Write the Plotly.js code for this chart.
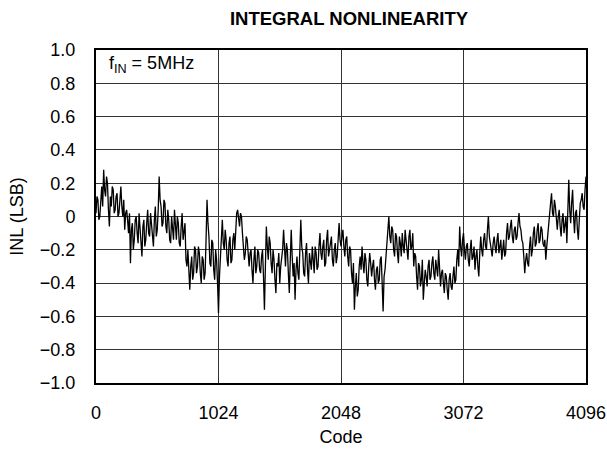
<!DOCTYPE html>
<html>
<head>
<meta charset="utf-8">
<script src="https://cdn.plot.ly/plotly-3.0.1.min.js"></script>
<style>html,body{margin:0;padding:0;background:#fff;}</style>
</head>
<body>
<div id="chart" style="width:607px;height:452px;"></div>
<script>
// Sample spacing along the code axis
const codeStep = 16;
// INL (LSB) at codes 0, 16, 32, ... 4096
const inl = [
  0.02, 0.10, 0.00, 0.18, 0.28, 0.12, 0.20, -0.06, 0.06, 0.16, 0.04, 0.14, 0.02, 0.18, 0.00, -0.08,
  0.04, -0.10, -0.28, -0.04, -0.14, 0.00, -0.16, -0.06, -0.24, -0.02, -0.14, 0.04, -0.12, -0.04, -0.18, 0.06,
  -0.08, 0.24, 0.06, -0.04, 0.08, -0.10, -0.02, -0.16, -0.06, 0.04, -0.14, -0.04, -0.18, 0.02, -0.10, -0.26,
  -0.20, -0.44, -0.24, -0.34, -0.20, -0.30, -0.22, -0.40, -0.26, -0.34, 0.10, -0.12, -0.30, -0.16, -0.38, -0.26,
  -0.58, -0.24, -0.02, -0.20, -0.14, -0.30, -0.12, -0.26, -0.10, -0.04, 0.04, -0.06, 0.00, -0.16, -0.22, -0.14,
  -0.30, -0.20, -0.40, -0.18, -0.30, -0.22, -0.34, -0.20, -0.56, -0.06, -0.26, -0.16, -0.34, -0.26, -0.46, -0.30,
  -0.40, -0.24, -0.08, -0.30, -0.20, -0.46, -0.08, -0.36, -0.50, -0.24, -0.38, -0.02, -0.22, -0.36, -0.16, -0.40,
  -0.26, -0.18, -0.34, -0.22, -0.30, -0.10, -0.26, -0.14, -0.28, -0.08, -0.20, -0.12, -0.30, -0.16, -0.24, -0.04,
  -0.18, -0.08, -0.24, -0.12, -0.30, -0.20, -0.40, -0.56, -0.34, -0.44, -0.24, -0.18, -0.34, -0.26, -0.42, -0.22,
  -0.36, -0.26, -0.44, -0.30, -0.38, -0.24, -0.57, -0.32, -0.14, 0.00, -0.16, -0.08, -0.24, -0.12, -0.28, -0.16,
  -0.10, -0.22, -0.14, -0.26, -0.08, -0.18, -0.30, -0.24, -0.44, -0.30, -0.38, -0.50, -0.32, -0.42, -0.26, -0.36,
  -0.24, -0.38, -0.30, -0.20, -0.42, -0.32, -0.46, -0.36, -0.50, -0.34, -0.44, -0.30, -0.38, -0.20, -0.06, -0.24,
  -0.10, -0.26, -0.16, -0.30, -0.14, -0.24, -0.32, -0.20, -0.36, -0.12, -0.24, -0.10, -0.20, 0.00, -0.16, -0.24,
  -0.12, -0.22, -0.10, -0.18, -0.26, -0.14, -0.22, -0.04, -0.12, -0.02, -0.16, -0.06, -0.12, 0.02, -0.08, -0.16,
  -0.34, -0.22, -0.30, -0.12, -0.20, -0.06, -0.16, -0.04, -0.14, -0.08, -0.18, -0.26, -0.10, 0.04, 0.14, 0.00,
  0.06, -0.08, 0.04, -0.12, 0.02, -0.06, -0.16, 0.22, -0.04, 0.16, -0.10, 0.04, -0.14, 0.08, 0.14, 0.04,
  0.24
];
// INL (LSB) at the in-between codes 8, 24, 40, ... 4088
const inlMid = [
  0.12, -0.02, 0.14, 0.06, 0.16, 0.24, 0.04, 0.12, 0.18, 0.02, 0.12, 0.00, 0.10, 0.06, 0.10, 0.02,
  -0.02, 0.02, -0.08, -0.20, -0.02, -0.10, 0.02, -0.14, -0.06, -0.18, -0.04, -0.10, 0.02, -0.14, -0.02, -0.12,
  0.04, 0.10, -0.06, 0.10, -0.06, 0.04, -0.14, 0.00, -0.14, -0.08, 0.00, -0.16, -0.06, -0.14, -0.04, -0.30,
  -0.32, -0.30, -0.38, -0.18, -0.34, -0.18, -0.34, -0.24, -0.38, -0.14, -0.04, -0.28, -0.14, -0.32, -0.20, -0.40,
  -0.36, -0.12, -0.16, -0.08, -0.26, -0.16, -0.28, -0.14, -0.20, 0.02, -0.04, 0.02, -0.10, -0.26, -0.12, -0.24,
  -0.22, -0.32, -0.26, -0.34, -0.20, -0.32, -0.24, -0.36, -0.30, -0.18, -0.12, -0.28, -0.20, -0.38, -0.28, -0.22,
  -0.30, -0.20, -0.22, -0.16, -0.34, -0.26, -0.24, -0.28, -0.32, -0.34, -0.20, -0.18, -0.34, -0.22, -0.32, -0.22,
  -0.32, -0.24, -0.18, -0.32, -0.18, -0.22, -0.18, -0.30, -0.14, -0.24, -0.14, -0.26, -0.20, -0.28, -0.14, -0.14,
  -0.12, -0.18, -0.14, -0.24, -0.18, -0.34, -0.28, -0.42, -0.48, -0.30, -0.32, -0.28, -0.22, -0.38, -0.30, -0.28,
  -0.30, -0.38, -0.32, -0.40, -0.26, -0.40, -0.36, -0.24, -0.06, -0.12, -0.06, -0.20, -0.10, -0.22, -0.12, -0.24,
  -0.18, -0.08, -0.24, -0.12, -0.20, -0.10, -0.22, -0.36, -0.28, -0.42, -0.26, -0.40, -0.36, -0.30, -0.38, -0.28,
  -0.34, -0.26, -0.36, -0.30, -0.34, -0.40, -0.34, -0.44, -0.38, -0.42, -0.36, -0.40, -0.26, -0.30, -0.18, -0.14,
  -0.20, -0.18, -0.26, -0.20, -0.26, -0.18, -0.24, -0.30, -0.22, -0.20, -0.14, -0.18, -0.08, -0.12, -0.20, -0.16,
  -0.18, -0.14, -0.22, -0.14, -0.18, -0.24, -0.10, -0.14, -0.06, -0.12, -0.08, -0.14, -0.04, -0.06, -0.14, -0.24,
  -0.26, -0.28, -0.18, -0.24, -0.10, -0.18, -0.08, -0.16, -0.06, -0.16, -0.14, -0.18, -0.04, 0.08, 0.02, 0.10,
  -0.02, 0.00, -0.06, -0.02, -0.10, 0.00, 0.02, 0.04, 0.08, 0.00, 0.02, -0.08, -0.02, 0.10, 0.06, 0.16
];

// Merge the two readings in code order
const codes = [];
const values = [];
inlMid.forEach((v, i) => {
  codes.push(i * codeStep);        values.push(inl[i]);
  codes.push(i * codeStep + codeStep / 2); values.push(v);
});
codes.push((inl.length - 1) * codeStep); values.push(inl[inl.length - 1]);

const xTickVals = [0, 1024, 2048, 3072, 4096];
const xTickText = ['0', '1024', '2048', '3072', '4096'];
const yTickVals = [1.0, 0.8, 0.6, 0.4, 0.2, 0, -0.2, -0.4, -0.6, -0.8, -1.0];
const yTickText = ['1.0', '0.8', '0.6', '0.4', '0.2', '0', '\u22120.2', '\u22120.4', '\u22120.6', '\u22120.8', '\u22121.0'];

const font = 'Liberation Sans, Arial, sans-serif';

const trace = {
  x: codes,
  y: values,
  type: 'scatter',
  mode: 'lines',
  line: {color: '#000', width: 1.3},
  hoverinfo: 'skip'
};

const layout = {
  width: 607,
  height: 452,
  margin: {l: 96, r: 21, t: 50, b: 69},
  paper_bgcolor: '#fff',
  plot_bgcolor: '#fff',
  showlegend: false,
  font: {family: font, size: 18, color: '#000'},
  title: {
    text: '<b>INTEGRAL NONLINEARITY</b>',
    font: {family: font, size: 18.5, color: '#000'},
    x: 0.575, xanchor: 'center', y: 0.96, yanchor: 'middle'
  },
  xaxis: {
    range: [0, 4096],
    tickvals: xTickVals,
    ticktext: xTickText,
    ticks: '',
    ticklabelstandoff: 12,
    showgrid: true,
    gridcolor: '#333',
    gridwidth: 1,
    zeroline: false,
    showline: true,
    linecolor: '#000',
    linewidth: 2,
    mirror: true,
    tickfont: {family: font, size: 18, color: '#000'},
    title: {text: 'Code', font: {family: font, size: 18, color: '#000'}, standoff: 9}
  },
  yaxis: {
    range: [-1, 1],
    tickvals: yTickVals,
    ticktext: yTickText,
    ticks: '',
    ticklabelstandoff: 15,
    showgrid: true,
    gridcolor: '#333',
    gridwidth: 1,
    zeroline: false,
    showline: true,
    linecolor: '#000',
    linewidth: 2,
    mirror: true,
    tickfont: {family: font, size: 18, color: '#000'},
    title: {text: 'INL (LSB)', font: {family: font, size: 18, color: '#000'}, standoff: 12}
  },
  annotations: [{
    text: 'f<sub>IN</sub> = 5MHz',
    xref: 'paper', yref: 'paper',
    x: 0.022, y: 0.955, xanchor: 'left', yanchor: 'middle',
    showarrow: false,
    font: {family: font, size: 18, color: '#000'}
  }]
};

Plotly.newPlot('chart', [trace], layout, {displayModeBar: false, staticPlot: true});
</script>
</body>
</html>
